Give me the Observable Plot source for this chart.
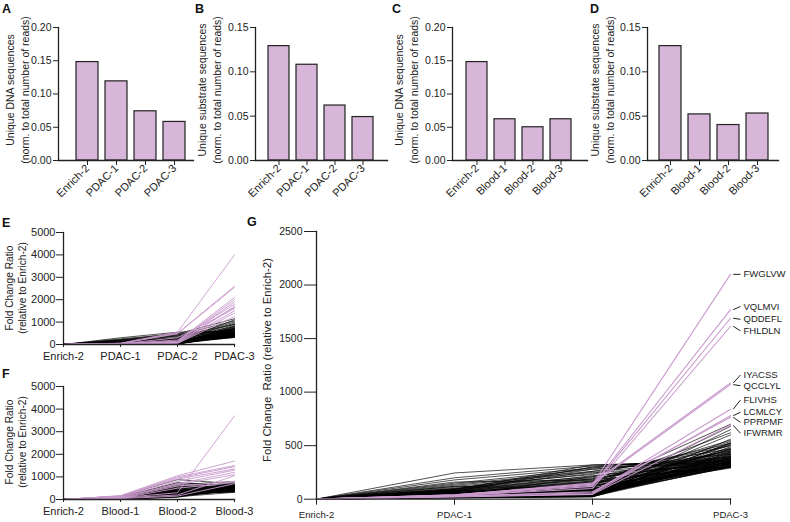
<!DOCTYPE html>
<html><head><meta charset="utf-8">
<script src="https://cdn.jsdelivr.net/npm/d3@7"></script>
<script src="https://cdn.jsdelivr.net/npm/@observablehq/plot@0.6"></script>
<style>
body{margin:0;background:#fff;font-family:"Liberation Sans",Arial,Helvetica,sans-serif;}
#root{position:relative;width:790px;height:522px;overflow:hidden;background:#fff;}
.p{position:absolute;}
.lt{position:absolute;font-weight:bold;font-size:12.5px;line-height:12px;color:#111;}
.yt{position:absolute;white-space:nowrap;transform:translate(-50%,-50%) rotate(-90deg);color:#222;text-align:center;}
</style></head><body><div id="root"></div><script>
// ---------- data ----------
const stagesPDAC = ["Enrich-2", "PDAC-1", "PDAC-2", "PDAC-3"];
const stagesBlood = ["Enrich-2", "Blood-1", "Blood-2", "Blood-3"];
const dnaPDAC = [0.148, 0.119, 0.074, 0.058];
const substratePDAC = [0.129, 0.108, 0.062, 0.049];
const dnaBlood = [0.148, 0.062, 0.050, 0.062];
const substrateBlood = [0.129, 0.052, 0.040, 0.053];
const ticks020 = [0, 0.05, 0.10, 0.15, 0.20];
const ticks015 = [0, 0.05, 0.10, 0.15];
const ticks5000 = [0, 1000, 2000, 3000, 4000, 5000];
const ticks2500 = [0, 500, 1000, 1500, 2000, 2500];
const enrichBaseline = 1;

// Panel E: [PDAC-1, PDAC-2, PDAC-3]
const ePdacBlack = [
  [300,550,600],[250,480,1150],[220,420,1050],[200,380,900],[180,350,700],[160,300,1000],
  [150,280,800],[140,260,650],[130,240,500],[120,220,950],[110,200,750],[100,190,550],
  [95,180,450],[90,170,850],[85,160,600],[80,150,400],[75,140,700],[70,130,520],
  [65,120,380],[60,110,620],[55,100,480],[52,95,350],[50,90,780],[48,85,560],
  [45,80,420],[42,75,660],[40,70,500],[38,65,340],[35,60,720],[33,55,460],
  [30,50,590],[28,45,380],[26,40,820],[24,38,530],[22,35,440],[20,32,680],
  [18,30,360],[16,28,500],[15,25,610],[14,22,420],[12,20,740],[10,18,470],
  [200,500,550],[150,450,480],[100,400,650],[60,250,900],[40,150,1100],[30,100,580],
  [20,60,430],[80,300,520],[90,120,330],[70,90,310],[50,70,360],[110,160,400],
  [25,45,320],[35,55,410],[45,65,370],[55,85,440],[65,105,390],[75,125,470]
];
const ePdacPurple = [
  [60,550,4000],[50,500,2600],[45,480,2550],[40,150,2100],[35,130,2000],[30,120,1900],
  [40,200,1800],[30,100,1700],[25,90,1650],[35,300,1600],[20,80,1500],[30,60,1400],[20,50,1250]
];
// Panel F: [Blood-1, Blood-2, Blood-3]
const fBloodBlack = [
  [150,880,700],[130,700,650],[120,650,800],[110,600,550],[100,560,720],[95,520,480],
  [90,500,600],[85,480,400],[80,460,680],[75,440,520],[70,420,350],[65,400,620],
  [60,380,450],[58,360,560],[55,340,380],[52,320,700],[50,300,500],[48,290,420],
  [45,280,640],[42,270,330],[40,260,580],[38,250,470],[36,240,760],[34,230,400],
  [32,220,540],[30,210,360],[28,200,660],[26,190,440],[24,180,510],[22,170,600],
  [20,160,380],[18,150,700],[16,140,460],[15,130,540],[14,120,320],[12,110,620],
  [10,100,480],[100,750,580],[80,620,430],[60,550,500],[40,480,380],[30,350,640],
  [20,250,560],[50,200,700],[70,300,600],[90,420,520],[35,180,450],[25,140,390],
  [45,260,340],[55,310,410],[65,350,470],[75,390,530]
];
const fBloodPurple = [
  [170,1050,1700],[160,1000,1500],[150,950,1450],[140,900,1350],[120,800,1300],[100,700,1200],
  [90,650,1100],[80,300,3700],[70,200,1050],[60,600,800],[50,500,750],[40,150,700]
];
// Panel G: [PDAC-1, PDAC-2, PDAC-3]
const gPdacBlack = [
  [245,320,340],[200,310,380],[180,290,420],[150,280,360],[140,260,470],[130,250,320],
  [120,230,520],[110,210,400],[100,200,350],[95,190,440],[90,180,310],[85,170,500],
  [80,160,380],[75,150,330],[70,140,460],[65,130,300],[60,120,410],[58,110,540],
  [55,100,350],[52,95,480],[50,90,320],[48,85,430],[45,80,390],[42,75,600],
  [40,70,340],[38,65,450],[36,60,310],[35,58,520],[33,55,370],[32,52,410],
  [30,50,680],[28,48,330],[27,45,470],[26,42,300],[25,40,560],[24,38,360],
  [22,36,420],[21,34,490],[20,32,340],[18,30,650],[17,28,380],[16,26,310],
  [15,25,440],[14,24,530],[13,23,350],[12,22,400],[60,140,620],[100,240,500],
  [70,300,330],[90,320,360],[160,180,300],[120,100,290],[35,210,450],[55,170,550],
  [40,120,700],[25,60,520],[45,90,470],[80,50,390],[30,35,510],[65,75,430],
  [20,40,300],[18,45,320],[22,50,340],[24,30,360],[26,35,380],[28,40,310],
  [30,55,400],[32,60,330],[34,65,420],[36,70,350],[38,80,300],[40,85,370],
  [44,90,390],[46,100,305],[48,110,440],[50,120,315],[54,130,460],[56,150,325],
  [62,160,345],[68,190,365],[72,220,335],[78,260,355],[84,280,375],[92,300,395]
];
const gLabels = ["FWGLVW","VQLMVI","QDDEFL","FHLDLN","IYACSS","QCCLYL","FLIVHS","LCMLCY","PPRPMF","IFWRMR"];
const gPdacPurple = [
  [40,140,2100],[35,130,1770],[30,120,1690],[35,100,1615],[40,150,1085],
  [38,140,1070],[30,60,840],[25,50,780],[28,70,765],[20,45,690]
];
const gLabelValues = [2100,1800,1680,1572,1160,1060,926,812,718,616];

// ---------- style ----------
const FONT = '"Liberation Sans", Arial, Helvetica, sans-serif';
const BAR_FILL = "#d8b6da";
const PURPLE = "#c99acd";
const INK = "#222";
const root = document.getElementById("root");

function place(el, left, top, width) {
  const d = document.createElement("div");
  d.className = "p";
  d.style.left = left + "px"; d.style.top = top + "px"; d.style.width = width + "px";
  d.appendChild(el); root.appendChild(d);
}
function letter(t, left, top) {
  const d = document.createElement("div");
  d.className = "lt"; d.textContent = t;
  d.style.left = left + "px"; d.style.top = top + "px";
  root.appendChild(d);
}
function ytitle(html, cx, cy, fs, lh) {
  const d = document.createElement("div");
  d.className = "yt"; d.innerHTML = html;
  d.style.left = cx + "px"; d.style.top = cy + "px";
  d.style.fontSize = fs + "px"; d.style.lineHeight = lh + "px";
  root.appendChild(d);
}

function barChart(o) {
  const data = o.cats.map((c, i) => ({c, v: o.vals[i]}));
  const svg = Plot.plot({
    width: o.width, height: 215,
    marginLeft: o.mL, marginRight: o.mR, marginTop: 27, marginBottom: 55,
    style: {fontFamily: FONT, fontSize: "10.5px", color: INK, background: "transparent", overflow: "visible"},
    x: {domain: o.cats, padding: 0.25, insetLeft: o.iL, insetRight: o.iR, label: null},
    y: {domain: [0, o.max], label: null},
    marks: [
      Plot.barY(data, {x: "c", y: "v", fill: BAR_FILL, stroke: INK, strokeWidth: 1.2}),
      Plot.frame({anchor: "left", stroke: INK, strokeWidth: 1.3}),
      Plot.frame({anchor: "bottom", stroke: INK, strokeWidth: 1.3}),
      Plot.axisY({ticks: o.ticks, tickFormat: d => d.toFixed(2), tickSize: 5, tickPadding: 2, label: null, fontSize: 10.5}),
      Plot.axisX({tickRotate: -45, tickSize: 5, tickPadding: 1, label: null, fontSize: 11})
    ]
  });
  place(svg, o.left, 0, o.width);
}

function toLong(rows, stages, group, useIndex) {
  const out = [];
  rows.forEach((r, i) => {
    [enrichBaseline, ...r].forEach((v, j) => out.push({id: group + i, s: useIndex ? j : stages[j], v}));
  });
  return out;
}

function smallLines(o) {
  const svg = Plot.plot({
    width: 260, height: o.height,
    marginLeft: 63, marginRight: 26, marginTop: o.mT, marginBottom: o.mB,
    style: {fontFamily: FONT, fontSize: "11px", color: INK, background: "transparent", overflow: "visible"},
    x: {type: "point", domain: o.stages, padding: 0, label: null},
    y: {domain: [0, 5000], label: null},
    marks: [
      Plot.line(toLong(o.black, o.stages, "b"), {x: "s", y: "v", z: "id", stroke: "#000", strokeWidth: 0.75, strokeOpacity: 0.9}),
      Plot.line(toLong(o.purple, o.stages, "p"), {x: "s", y: "v", z: "id", stroke: PURPLE, strokeWidth: 0.9}),
      Plot.frame({anchor: "left", stroke: INK, strokeWidth: 1.3}),
      Plot.frame({anchor: "bottom", stroke: INK, strokeWidth: 1.3}),
      Plot.axisY({ticks: ticks5000, tickFormat: "d", tickSize: 7, tickPadding: 1, label: null, fontSize: 11}),
      Plot.axisX({tickSize: 3, tickPadding: o.xPad, label: null, fontSize: 11})
    ]
  });
  place(svg, 0, o.top, 260);
}

// ---------- panels A-D ----------
barChart({cats: stagesPDAC, vals: dnaPDAC, max: 0.20, ticks: ticks020, left: 0, width: 195, mL: 58, mR: 2, iL: 10, iR: 1});
barChart({cats: stagesPDAC, vals: substratePDAC, max: 0.15, ticks: ticks015, left: 195, width: 200, mL: 60, mR: 8, iL: 4, iR: 5});
barChart({cats: stagesBlood, vals: dnaBlood, max: 0.20, ticks: ticks020, left: 395, width: 195, mL: 57, mR: 3, iL: 5.5, iR: 7});
barChart({cats: stagesBlood, vals: substrateBlood, max: 0.15, ticks: ticks015, left: 590, width: 200, mL: 57, mR: 12, iL: 4.6, iR: 3});

// ---------- panels E, F ----------
smallLines({stages: stagesPDAC, black: ePdacBlack, purple: ePdacPurple, top: 225, height: 140, mT: 7, mB: 21, xPad: 4.5});
smallLines({stages: stagesBlood, black: fBloodBlack, purple: fBloodPurple, top: 375, height: 147, mT: 11, mB: 23, xPad: 5});

// ---------- panel G ----------
const gEnds = gPdacPurple.map((r, i) => ({name: gLabels[i], end: r[2], lab: gLabelValues[i]}));
const gSvg = Plot.plot({
  width: 560, height: 297,
  marginLeft: 86, marginRight: 60, marginTop: 6, marginBottom: 23.3,
  style: {fontFamily: FONT, fontSize: "10.5px", color: INK, background: "transparent", overflow: "visible"},
  x: {domain: [0, 3], label: null},
  y: {domain: [0, 2500], label: null},
  marks: [
    Plot.line(toLong(gPdacBlack, stagesPDAC, "b", true), {x: "s", y: "v", z: "id", stroke: "#000", strokeWidth: 0.75, strokeOpacity: 0.9}),
    Plot.line(toLong(gPdacPurple, stagesPDAC, "p", true), {x: "s", y: "v", z: "id", stroke: PURPLE, strokeWidth: 1.1}),
    Plot.link(gEnds, {x1: 3.02, y1: "end", x2: 3.072, y2: "lab", stroke: INK, strokeWidth: 1}),
    Plot.text(gEnds, {x: 3, y: "lab", text: "name", dx: 13, textAnchor: "start", fontSize: 9.5, fill: INK}),
    Plot.frame({anchor: "left", stroke: INK, strokeWidth: 1.3}),
    Plot.frame({anchor: "bottom", stroke: INK, strokeWidth: 1.3}),
    Plot.axisY({ticks: ticks2500, tickFormat: "d", tickSize: 12, tickPadding: 2, label: null, fontSize: 10.5}),
    Plot.axisX({ticks: [0, 1, 2, 3], tickFormat: i => stagesPDAC[i], tickSize: 6, tickPadding: 6, label: null, fontSize: 9.5})
  ]
});
place(gSvg, 230, 225, 560);

// ---------- titles & letters ----------
ytitle("Unique DNA sequences<br>(norm. to total number of reads)", 17.5, 90, 10.5, 15);
ytitle("Unique substrate sequences<br>(norm. to total number of reads)", 210, 90, 10.5, 15);
ytitle("Unique DNA sequences<br>(norm. to total number of reads)", 407, 90, 10.5, 15);
ytitle("Unique substrate sequences<br>(norm. to total number of reads)", 603, 90, 10.5, 15);
ytitle("Fold Change Ratio<br>(relative to Enrich-2)", 16, 288, 10.2, 13);
ytitle("Fold Change Ratio<br>(relative to Enrich-2)", 16, 442, 10.2, 13);
ytitle("Fold Change&nbsp; Ratio (relative to Enrich-2)", 267, 360, 11.4, 13);

letter("A", 2, 3); letter("B", 195, 3); letter("C", 392, 3); letter("D", 590, 3);
letter("E", 2, 217); letter("F", 2, 368); letter("G", 247, 216);
</script></body></html>
